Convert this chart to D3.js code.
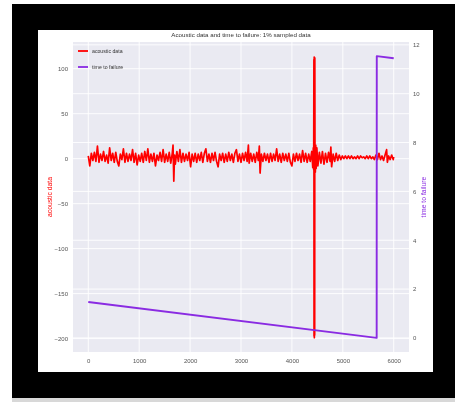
<!DOCTYPE html>
<html>
<head>
<meta charset="utf-8">
<script src="https://cdn.jsdelivr.net/npm/d3@7"></script>
<style>
  html, body { margin: 0; padding: 0; background: #fff; }
  svg { display: block; font-family: "Liberation Sans", Arial, sans-serif; filter: blur(0.7px); }
</style>
</head>
<body>
<svg id="chart" width="455" height="403"></svg>
<script>
// chart text
var chartTitle = "Acoustic data and time to failure: 1% sampled data";
var leftLabel = "acoustic data";
var rightLabel = "time to failure";

// ticks
var xTicks = [0, 1000, 2000, 3000, 4000, 5000, 6000];
var leftTicks = [-200, -150, -100, -50, 0, 50, 100];
var rightTicks = [0, 2, 4, 6, 8, 10, 12];

// time to failure (sample index, seconds)
var ttfIdx = [0, 5665, 5667, 6000];
var ttfVal = [1.47, 0.001, 11.54, 11.45];

// acoustic signal (sample index, value)
var acousticIdx = [
  0, 30, 60, 90, 120, 150, 180, 210, 240, 270, 300, 330, 360, 390, 420, 450, 480, 510, 540, 570,
  600, 630, 660, 690, 720, 750, 780, 810, 840, 870, 900, 930, 960, 990,
  1020, 1050, 1080, 1110, 1140, 1170, 1200, 1230, 1260, 1290, 1320, 1350, 1380, 1410, 1440, 1470,
  1500, 1530, 1560, 1590, 1620, 1650, 1665, 1680, 1695, 1710, 1740, 1770, 1800, 1830, 1860, 1890,
  1920, 1950, 1980,
  2010, 2040, 2070, 2100, 2130, 2160, 2190, 2220, 2250, 2280, 2310, 2340, 2370, 2400, 2430, 2460,
  2490, 2520, 2550, 2580, 2610, 2640, 2670, 2700, 2730, 2760, 2790, 2820, 2850, 2880, 2910, 2940, 2970,
  3000, 3030, 3060, 3090, 3120, 3145, 3160, 3190, 3220, 3250, 3280, 3310, 3340, 3360, 3375, 3400,
  3430, 3460, 3490, 3520, 3550, 3580, 3610, 3640, 3670, 3700, 3730, 3760, 3790, 3820, 3850, 3880,
  3910, 3940, 3970,
  4000, 4030, 4060, 4090, 4120, 4150, 4180, 4210, 4240, 4270, 4300, 4330, 4360, 4390, 4410, 4420, 4428,
  4432, 4435, 4438, 4441, 4444, 4447, 4450, 4453,
  4460, 4468, 4476, 4490, 4510, 4540, 4570, 4600, 4630, 4660, 4690, 4720, 4750, 4765, 4780, 4810,
  4840, 4870, 4900, 4930,
  4960, 4990, 5020, 5050, 5080, 5110, 5140, 5170, 5200, 5230, 5260, 5290, 5320, 5350, 5380, 5410,
  5440, 5470, 5500, 5530, 5560, 5590, 5620, 5650, 5680, 5710, 5740, 5770, 5800, 5830, 5860, 5875,
  5900, 5930, 5960, 5990, 6000
];
var acousticVal = [
  3, -8, 6, -2, 7, -3, 14, -4, 5, -2, 8, -3, 4, -5, 12, -2, 6, -4, 7, -3,
  -8, 5, -1, 11, -4, 6, -3, 5, -2, 10, -4, 6, -7, 4,
  -3, 6, -4, 8, -2, 11, -4, 5, -3, 6, -8, 4, -2, 7, -3, 10,
  -4, 5, -3, 7, -5, 6, 15, -25, 4, -6, 8, -3, 10, -4, 6, -3,
  5, -2, 7,
  -9, 5, -3, 6, -4, 5, -2, 7, -4, 6, 11, -3, 5, -4, 6, -2,
  7, -3, -9, 5, -2, 6, -4, 5, -3, 7, -2, 5, -4, 6, 10, -3, 5,
  -4, 6, -2, 7, -3, 15, -5, 6, -3, 5, -4, 7, -2, 14, -16, 5,
  -3, 6, -2, 5, -4, 6, -3, 5, -2, 11, -3, 5, -4, 6, -2, 5,
  -3, 6, -4,
  -8, 5, -3, 6, -2, 5, -4, 9, -3, 6, -4, 5, -3, 8, -10, 12, -12,
  110, -197, 113, -199, 108, -196, 112, 14,
  -15, 15, -11, 12, -8, 7, -5, 8, -6, 6, -4, 7, -3, 13, -9, 5,
  -3, 6, -2, 4,
  -1, 3, 0, 3, 0, 3, 0, 3, 0, 2, 0, 3, 0, 3, 1, 2,
  0, 3, 0, 3, 0, 2, -1, 4, -1, 6, -1, 3, -2, 4, 10, -4,
  3, -1, 4, -1, 2
];

var svg = d3.select("#chart");

// frame: white page, black mat, white card
svg.append("rect").attr("width", 455).attr("height", 403).attr("fill", "#fff");
svg.append("rect").attr("x", 12).attr("y", 398).attr("width", 443).attr("height", 4).attr("fill", "#d8d8d8");
svg.append("rect").attr("x", 12).attr("y", 4).attr("width", 443).attr("height", 394).attr("fill", "#000");
svg.append("rect").attr("x", 38).attr("y", 30).attr("width", 395).attr("height", 342).attr("fill", "#fff");

// plot area
var plot = {left: 73, top: 42, width: 336, height: 310};

var x = d3.scaleLinear().domain([-300, 6300]).range([plot.left, plot.left + plot.width]);
var yL = d3.scaleLinear().domain([-214.9, 129.7]).range([plot.top + plot.height, plot.top]);
var yR = d3.scaleLinear().domain([-0.577, 12.117]).range([plot.top + plot.height, plot.top]);

svg.append("rect")
  .attr("x", plot.left).attr("y", plot.top)
  .attr("width", plot.width).attr("height", plot.height)
  .attr("fill", "#eaeaf2");

// grid (both y axes draw their own grid, seaborn twinx style)
var grid = svg.append("g").attr("stroke", "#fff").attr("stroke-width", 0.9);
grid.selectAll("line.gx").data(xTicks).enter().append("line")
  .attr("x1", d => x(d)).attr("x2", d => x(d))
  .attr("y1", plot.top).attr("y2", plot.top + plot.height);
grid.selectAll("line.gl").data(leftTicks).enter().append("line")
  .attr("x1", plot.left).attr("x2", plot.left + plot.width)
  .attr("y1", d => yL(d)).attr("y2", d => yL(d));
grid.selectAll("line.gr").data(rightTicks).enter().append("line")
  .attr("x1", plot.left).attr("x2", plot.left + plot.width)
  .attr("y1", d => yR(d)).attr("y2", d => yR(d));

svg.append("clipPath").attr("id", "clip").append("rect")
  .attr("x", plot.left).attr("y", plot.top)
  .attr("width", plot.width).attr("height", plot.height);

var lines = svg.append("g").attr("clip-path", "url(#clip)");

var acousticLine = d3.line()
  .x((d, i) => x(acousticIdx[i]))
  .y(d => yL(d));
lines.append("path")
  .datum(acousticVal)
  .attr("d", acousticLine)
  .attr("fill", "none")
  .attr("stroke", "#ff0000")
  .attr("stroke-width", 1.7)
  .attr("stroke-linejoin", "round");

var ttfLine = d3.line()
  .x((d, i) => x(ttfIdx[i]))
  .y(d => yR(d));
lines.append("path")
  .datum(ttfVal)
  .attr("d", ttfLine)
  .attr("fill", "none")
  .attr("stroke", "#8a2be2")
  .attr("stroke-width", 1.9)
  .attr("stroke-linejoin", "round");

// axes
function styleAxis(g) {
  g.select(".domain").remove();
  g.selectAll("text").attr("fill", "#555").attr("font-size", "6px");
}
svg.append("g")
  .attr("transform", "translate(0," + (plot.top + plot.height) + ")")
  .call(d3.axisBottom(x).tickValues(xTicks).tickFormat(d3.format("d")).tickSize(0).tickPadding(7))
  .call(styleAxis);
svg.append("g")
  .attr("transform", "translate(" + plot.left + ",0)")
  .call(d3.axisLeft(yL).tickValues(leftTicks).tickFormat(d3.format("d")).tickSize(0).tickPadding(5))
  .call(styleAxis);
svg.append("g")
  .attr("transform", "translate(" + (plot.left + plot.width) + ",0)")
  .call(d3.axisRight(yR).tickValues(rightTicks).tickFormat(d3.format("d")).tickSize(0).tickPadding(4))
  .call(styleAxis);

// title
svg.append("text")
  .attr("x", plot.left + plot.width / 2).attr("y", 37)
  .attr("text-anchor", "middle")
  .attr("font-size", "6.2px").attr("fill", "#333")
  .text(chartTitle);

// y labels
svg.append("text")
  .attr("transform", "translate(52," + (plot.top + plot.height / 2) + ") rotate(-90)")
  .attr("text-anchor", "middle")
  .attr("font-size", "6.8px").attr("fill", "#ff0000")
  .text(leftLabel);
svg.append("text")
  .attr("transform", "translate(426," + (plot.top + plot.height / 2) + ") rotate(-90)")
  .attr("text-anchor", "middle")
  .attr("font-size", "6.8px").attr("fill", "#8a2be2")
  .text(rightLabel);

// legend
var legendItems = [
  {label: leftLabel, color: "#ff0000"},
  {label: rightLabel, color: "#8a2be2"}
];
var legend = svg.append("g").attr("transform", "translate(78,51)");
legend.selectAll("g").data(legendItems).enter().append("g")
  .attr("transform", (d, i) => "translate(0," + (i * 16) + ")")
  .each(function(d) {
    var g = d3.select(this);
    g.append("line").attr("x1", 0).attr("x2", 10).attr("y1", 0).attr("y2", 0)
      .attr("stroke", d.color).attr("stroke-width", 1.8);
    g.append("text").attr("x", 14).attr("y", 2)
      .attr("font-size", "5.2px").attr("fill", "#333")
      .text(d.label);
  });
</script>
</body>
</html>
